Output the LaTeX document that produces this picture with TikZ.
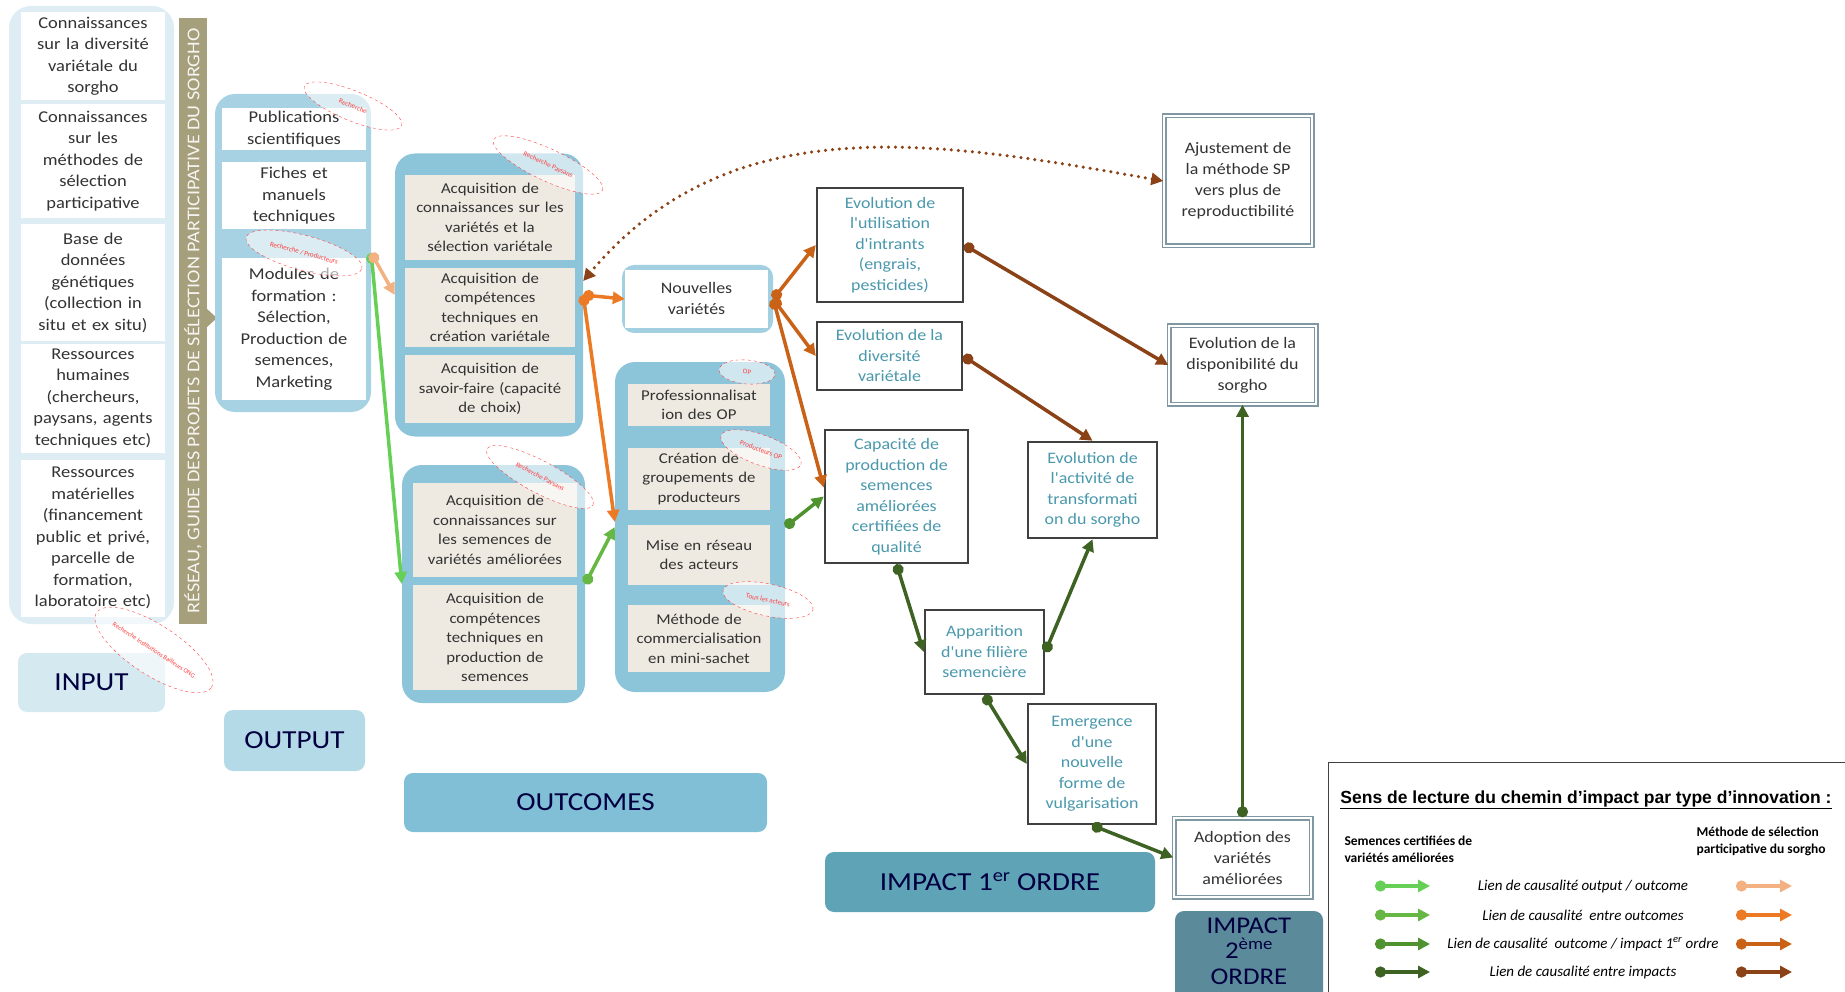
\documentclass[tikz,border=0pt]{standalone}
\usepackage{fontspec}
\setmainfont{Carlito}
\newfontfamily\widefont[FakeStretch=1.12]{Carlito}
\newfontfamily\headfont{Liberation Sans}
\usetikzlibrary{arrows.meta,shapes.geometric}

\definecolor{paleblue}{HTML}{DDEDF3}
\definecolor{midblue}{HTML}{A6D2E3}
\definecolor{grpblue}{HTML}{8CC4DA}
\definecolor{beige}{HTML}{EFEAE1}
\definecolor{khaki}{HTML}{A59F7C}
\definecolor{tealtext}{HTML}{4A98AC}
\definecolor{labelblue}{HTML}{B5DAE7}
\definecolor{outcomeblue}{HTML}{81BFD6}
\definecolor{imponeblue}{HTML}{5FA3B7}
\definecolor{imptwoblue}{HTML}{5B8B9A}
\definecolor{framegray}{HTML}{7F98A2}
\definecolor{gOne}{HTML}{66CF55}
\definecolor{gTwo}{HTML}{67B744}
\definecolor{gThree}{HTML}{4E9330}
\definecolor{gFour}{HTML}{3D6222}
\definecolor{oOne}{HTML}{F3B080}
\definecolor{oTwo}{HTML}{EC7A24}
\definecolor{oThree}{HTML}{C96117}
\definecolor{oFour}{HTML}{8A4216}

\begin{document}
\begin{tikzpicture}[x=1pt,y=-1pt,
        box/.style={
            rectangle,
            rounded corners=20pt,
            inner sep=0pt
        },
        incell/.style={
            rectangle,
            fill=white,
            align=center,
            text width=140pt,
            minimum width=144pt,
            inner sep=1pt,
            text=black!80,
            font=\widefont\fontsize{16.5}{21.5}\selectfont
        },
        accell/.style={
            rectangle,
            fill=beige,
            align=center,
            text width=160pt,
            inner sep=1pt,
            text=black!80,
            font=\widefont\fontsize{15}{19.5}\selectfont
        },
        impact/.style={
            rectangle,
            draw=black!75,
            line width=2.5pt,
            fill=white,
            align=center,
            inner sep=1pt,
            text=tealtext,
            font=\widefont\fontsize{16}{20.5}\selectfont
        },
        impacttwo/.style={
            rectangle,
            draw=framegray,
            line width=1.5pt,
            double=white,
            double distance=2pt,
            fill=white,
            align=center,
            inner sep=1pt,
            text=black!80,
            font=\widefont\fontsize{16}{21}\selectfont
        },
        stage/.style={
            rectangle,
            rounded corners=9pt,
            align=center,
            text=black!75!blue,
            font=\widefont\fontsize{26}{28}\selectfont
        },
        stamp/.style={
            ellipse,
            draw=red!75,
            dashed,
            fill=white,
            fill opacity=0.6,
            text opacity=1,
            text=red!75,
            align=center,
            inner sep=0pt,
            font=\fontsize{7}{11}\selectfont
        },
        link/.style={
            line width=3.5pt,
            {Circle[length=11pt]}-{Triangle[length=12pt,width=12pt]}
        },
        dotlink/.style={
            line width=3.5pt,
            dash pattern=on 0pt off 7pt,
            line cap=round,
            {Triangle[length=12pt,width=12pt]}-{Triangle[length=12pt,width=12pt]}
        }
    ]

        \useasboundingbox (0,0) rectangle (1845,992);
        \clip (0,0) rectangle (1845,992);

        % input
        \node[box, fill=paleblue, rounded corners=22pt, minimum width=165pt, minimum height=618pt] (inbox) at (91.5,315) {};
        \node[incell, minimum height=88pt] (in1) at (93,56) {Connaissances\\sur la diversité\\variétale du\\sorgho};
        \node[incell, minimum height=114pt] (in2) at (93,161) {Connaissances\\sur les\\méthodes de\\sélection\\participative};
        \node[incell, minimum height=117pt] (in3) at (93,282.5) {Base de\\données\\génétiques\\(collection in\\situ et ex situ)};
        \node[incell, minimum height=109pt] (in4) at (93,398.5) {Ressources\\humaines\\(chercheurs,\\paysans, agents\\techniques etc)};
        \node[incell, minimum height=157pt] (in5) at (93,538) {Ressources\\matérielles\\(financement\\public et privé,\\parcelle de\\formation,\\laboratoire etc)};
        \node[stage, fill=paleblue!80!labelblue, minimum width=147pt, minimum height=59pt] (inlabel) at (91.5,682.5) {INPUT};

        \node[rectangle, fill=khaki, rotate=90, minimum width=606pt, minimum height=28pt, inner sep=0pt, text=white!90!khaki, font=\widefont\fontsize{18}{18}\selectfont] (banner) at (193,321) {RÉSEAU, GUIDE DES PROJETS DE SÉLECTION PARTICIPATIVE DU SORGHO};
        \fill[khaki] (207,309) -- (217,318) -- (207,327) -- cycle;

        % output
        \node[box, fill=midblue, minimum width=156pt, minimum height=318pt] (outbox) at (293,253) {};
        \node[incell, text width=138pt, minimum height=42pt] (out1) at (294,129) {Publications\\scientifiques};
        \node[incell, text width=138pt, minimum height=67pt] (out2) at (294,196) {Fiches et\\manuels\\techniques};
        \node[incell, text width=138pt, minimum height=142pt] (out3) at (294,329) {Modules de\\formation :\\Sélection,\\Production de\\semences,\\Marketing};
        \node[stage, fill=labelblue, minimum width=141pt, minimum height=61pt] (outlabel) at (294.5,740.5) {OUTPUT};

        % outcomes
        \node[box, fill=grpblue, minimum width=188pt, minimum height=283pt] (grpA) at (489,295) {};
        \node[accell, minimum width=170pt, minimum height=85pt] (a1) at (490,217.5) {Acquisition de\\connaissances sur les\\variétés et la\\sélection variétale};
        \node[accell, minimum width=170pt, minimum height=79pt] (a2) at (490,307.5) {Acquisition de\\compétences\\techniques en\\création variétale};
        \node[accell, minimum width=170pt, minimum height=68pt] (a3) at (490,389) {Acquisition de\\savoir-faire (capacité\\de choix)};

        \node[box, fill=grpblue, minimum width=183pt, minimum height=238pt] (grpB) at (493.5,584) {};
        \node[accell, minimum width=164pt, minimum height=94pt] (b1) at (495,530) {Acquisition de\\connaissances sur\\les semences de\\variétés améliorées};
        \node[accell, minimum width=164pt, minimum height=105pt] (b2) at (495,637.5) {Acquisition de\\compétences\\techniques en\\production de\\semences};

        \node[box, fill=grpblue!80!white, rounded corners=12pt, minimum width=151pt, minimum height=68pt] (newvarbox) at (697.5,299) {};
        \node[rectangle, fill=white, minimum width=143pt, minimum height=58pt, align=center, inner sep=1pt, text=black!80, font=\widefont\fontsize{16}{21}\selectfont] (newvar) at (696.5,299) {Nouvelles\\variétés};

        \node[box, fill=grpblue, minimum width=170pt, minimum height=330pt] (grpC) at (700,527) {};
        \node[accell, text width=138pt, minimum width=142pt, minimum height=42pt] (c1) at (699,405) {Professionnalisat\\ion des OP};
        \node[accell, text width=138pt, minimum width=142pt, minimum height=62pt] (c2) at (699,479) {Création de\\groupements de\\producteurs};
        \node[accell, text width=138pt, minimum width=142pt, minimum height=60pt] (c3) at (699,555) {Mise en réseau\\des acteurs};
        \node[accell, text width=138pt, minimum width=142pt, minimum height=67pt] (c4) at (699,638.5) {Méthode de\\commercialisation\\en mini-sachet};

        \node[stage, fill=outcomeblue, minimum width=363pt, minimum height=59pt] (outclabel) at (585.5,802.5) {OUTCOMES};

        % stamps
        \node[stamp, rotate=-33, minimum width=130pt, minimum height=50pt, font=\fontsize{6.5}{8}\selectfont] (st1) at (154,650) {Recherche Institutions Bailleurs ONG};
        \node[stamp, rotate=-22, minimum width=105pt, minimum height=30pt] (st2) at (353,106) {Recherche};
        \node[stamp, rotate=-15, minimum width=120pt, minimum height=35pt] (st3) at (304,253) {Recherche / Producteurs};
        \node[stamp, rotate=-25, minimum width=120pt, minimum height=32pt] (st4) at (548,165) {Recherche Paysans};
        \node[stamp, rotate=-28, minimum width=120pt, minimum height=32pt] (st5) at (540,477) {Recherche Paysans};
        \node[stamp, rotate=-5, minimum width=56pt, minimum height=24pt] (st6) at (747,372) {OP};
        \node[stamp, rotate=-20, minimum width=85pt, minimum height=30pt] (st7) at (761,450) {Producteurs OP};
        \node[stamp, rotate=-12, minimum width=92pt, minimum height=32pt] (st8) at (768,600) {Tous les acteurs};

        % impacts
        \node[impact, minimum width=146pt, minimum height=114pt] (intrants) at (890,245) {Evolution de\\l'utilisation\\d'intrants\\(engrais,\\pesticides)};
        \node[impact, minimum width=145pt, minimum height=68pt] (diversite) at (889.5,356) {Evolution de la\\diversité\\variétale};
        \node[impact, minimum width=143pt, minimum height=133pt] (capacite) at (896.5,496.5) {Capacité de\\production de\\semences\\améliorées\\certifiées de\\qualité};
        \node[impact, minimum width=129pt, minimum height=96pt] (transfo) at (1092.5,490) {Evolution de\\l'activité de\\transformati\\on du sorgho};
        \node[impact, minimum width=119pt, minimum height=84pt] (filiere) at (984.5,652) {Apparition\\d'une filière\\semencière};
        \node[impact, minimum width=128pt, minimum height=120pt] (vulga) at (1092,764) {Emergence\\d'une\\nouvelle\\forme de\\vulgarisation};

        \node[impacttwo, minimum width=148pt, minimum height=130pt] (ajust) at (1238,181) {Ajustement de\\la méthode SP\\vers plus de\\reproductibilité};
        \node[impacttwo, minimum width=147pt, minimum height=78pt] (dispo) at (1242.5,365) {Evolution de la\\disponibilité du\\sorgho};
        \node[impacttwo, minimum width=137pt, minimum height=79pt] (adoption) at (1242.5,857.5) {Adoption des\\variétés\\améliorées};

        \node[stage, fill=imponeblue, minimum width=330pt, minimum height=60pt] (imponelabel) at (990,882) {IMPACT 1\textsuperscript{er} ORDRE};
        \node[box, fill=imptwoblue, rounded corners=9pt, minimum width=148pt, minimum height=100pt] (imptwobox) at (1249,961) {};
        \node[align=center, inner sep=0pt, text=black!75!blue, font=\widefont\fontsize{24}{25.5}\selectfont] (imptwolabel) at (1249,951) {IMPACT\\2\textsuperscript{ème}\\ORDRE};

        % connectors
        \draw[link, gOne] (outbox.east) -- (grpB.west);
        \draw[link, oOne] (outbox.east) -- (grpA.west);
        \draw[link, oTwo] (grpA.east) -- (newvar.west);
        \draw[link, oTwo] (grpA.east) -- ([yshift=5pt]grpC.west);
        \draw[link, gTwo] (grpB.east) -- (grpC.west);
        \draw[link, gThree] (grpC.east) -- (capacite.west);
        \draw[link, oThree] (newvarbox.east) -- (intrants.west);
        \draw[link, oThree] (newvarbox.east) -- (diversite.west);
        \draw[link, oThree] (newvarbox.east) -- ([yshift=9pt]capacite.west);
        \draw[link, oFour] (intrants.east) -- (dispo.west);
        \draw[link, oFour] (diversite.east) -- (transfo.north);
        \draw[link, gFour] (capacite.south) -- (filiere.west);
        \draw[link, gFour] (filiere.east) -- (transfo.south);
        \draw[link, gFour] (filiere.south) -- (vulga.west);
        \draw[link, gFour] (vulga.south) -- (adoption.west);
        \draw[link, gFour] (adoption.north) -- (dispo.south);
        \draw[dotlink, oFour] (ajust.west) to[out=170, in=50] ([yshift=14pt]grpA.east);

        % legend
        \node[draw=black!75, line width=1pt, minimum width=530pt, minimum height=240pt, anchor=north west] (legend) at (1328,762) {};
        \node[font=\headfont\bfseries\fontsize{17.5}{20}\selectfont] (legtitle) at (1586,800) {\underline{Sens de lecture du chemin d’impact par type d’innovation :}};
        \node[anchor=west, align=left, font=\bfseries\fontsize{13.5}{17}\selectfont] (legleft) at (1341,849) {Semences certifiées de\\variétés améliorées};
        \node[anchor=west, align=left, font=\bfseries\fontsize{13.5}{17}\selectfont] (legright) at (1693,841) {Méthode de sélection\\participative du sorgho};
        \node[font=\itshape\fontsize{15}{16}\selectfont] (row1) at (1583,886) {Lien de causalité output / outcome};
        \node[font=\itshape\fontsize{15}{16}\selectfont] (row2) at (1583,915) {Lien de causalité~ entre outcomes};
        \node[font=\itshape\fontsize{15}{16}\selectfont] (row3) at (1583,944) {Lien de causalité~ outcome / impact 1\textsuperscript{er} ordre};
        \node[font=\itshape\fontsize{15}{16}\selectfont] (row4) at (1583,972) {Lien de causalité entre impacts};
        \draw[link, gOne] (1375,886) -- (1430,886);
        \draw[link, gTwo] (1375,915) -- (1430,915);
        \draw[link, gThree] (1375,944) -- (1430,944);
        \draw[link, gFour] (1375,972) -- (1430,972);
        \draw[link, oOne] (1736,886) -- (1792,886);
        \draw[link, oTwo] (1736,915) -- (1792,915);
        \draw[link, oThree] (1736,944) -- (1792,944);
        \draw[link, oFour] (1736,972) -- (1792,972);

    \end{tikzpicture}
\end{document}
